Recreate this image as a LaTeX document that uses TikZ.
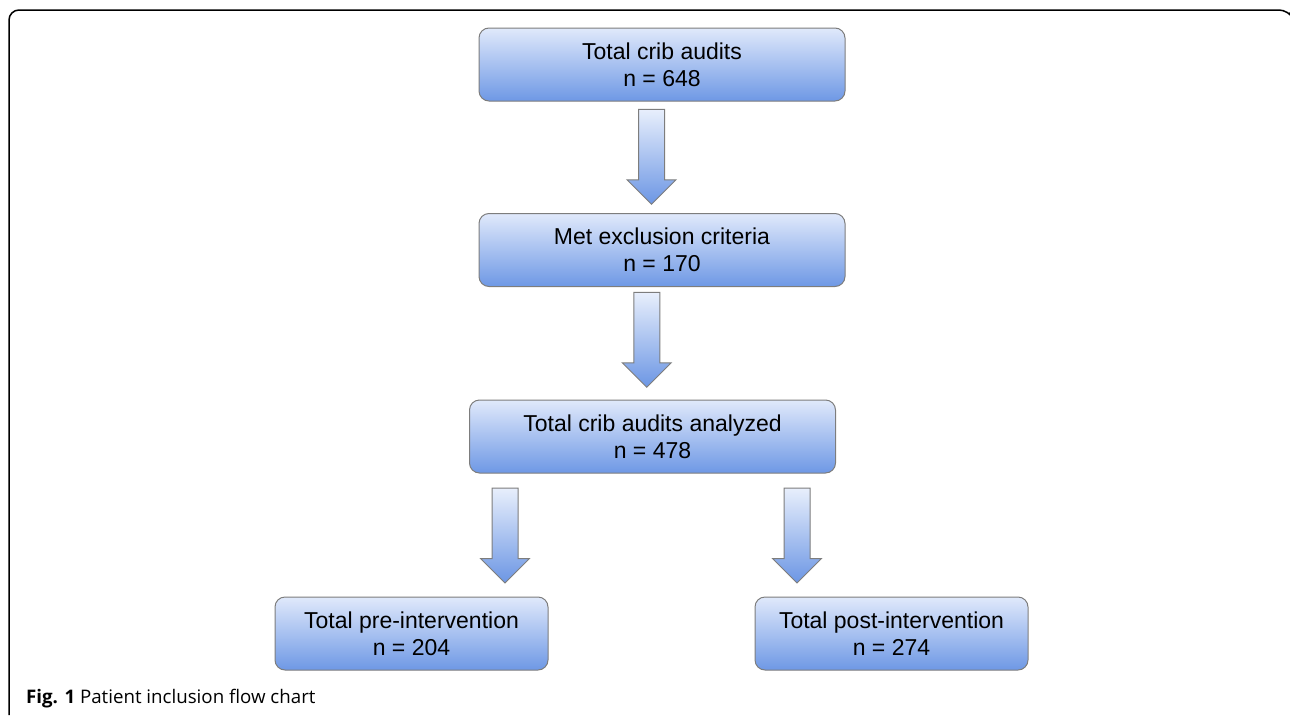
\documentclass[tikz,border=0pt]{standalone}
\usepackage{fontspec}
\setmainfont{Liberation Sans}
\newfontfamily\capfont{Open Sans}
\usetikzlibrary{positioning,calc,shapes.arrows}
\definecolor{boxtop}{RGB}{224,233,251}
\definecolor{boxbot}{RGB}{110,152,229}
\definecolor{arrtop}{RGB}{232,239,252}
\definecolor{arrbot}{RGB}{108,150,228}
\definecolor{rim}{RGB}{125,125,125}
\tikzset{
  box/.style={draw=rim, line width=1pt, rounded corners=10pt,
    top color=boxtop, bottom color=boxbot,
    minimum width=366pt, minimum height=73pt, inner sep=0pt,
    align=center, font=\fontsize{23}{27}\selectfont},
  blockarrow/.style={single arrow, shape border rotate=270, draw=rim, line width=1pt,
    top color=arrtop, bottom color=arrbot,
    minimum height=95pt, minimum width=48pt, inner sep=12.5pt,
    single arrow head extend=11.5pt, single arrow tip angle=90}
}
\begin{document}
\begin{tikzpicture}[x=1pt,y=-1pt]
    \useasboundingbox (0,0) rectangle (1290,715);
    % frame
    \draw[line width=1.5pt, rounded corners=10pt] (9,715) -- (9,10) -- (1289,10) -- (1290,12);
    % boxes
    \node[box] (total) at (662,64.5) {Total crib audits\\n = 648};
    \node[box] (excl) at (662,250) {Met exclusion criteria\\n = 170};
    \node[box] (analyzed) at (652.5,436.5) {Total crib audits analyzed\\n = 478};
    \node[box, minimum width=273pt] (pre) at (411.5,633.5) {Total pre-intervention\\n = 204};
    \node[box, minimum width=273pt] (post) at (891.5,633.5) {Total post-intervention\\n = 274};
    % arrows
    \node[blockarrow] (a1) at ($(total.south)!.5!(excl.north)+(-10.5,-7)$) {};
    \node[blockarrow] (a2) at ($(excl.south)!.5!(analyzed.north)+(-10.5,-10)$) {};
    \node[blockarrow] (a3) at ($(analyzed.south)!.5!(pre.north)+(-27,-6)$) {};
    \node[blockarrow] (a4) at ($(analyzed.south)!.5!(post.north)+(25,-6)$) {};
    % caption
    \node[anchor=base west, inner sep=0pt, font=\capfont\fontsize{18.7}{22}\selectfont] (caption) at (26,703) {\textbf{Fig. 1} Patient inclusion flow chart};
\end{tikzpicture}
\end{document}
